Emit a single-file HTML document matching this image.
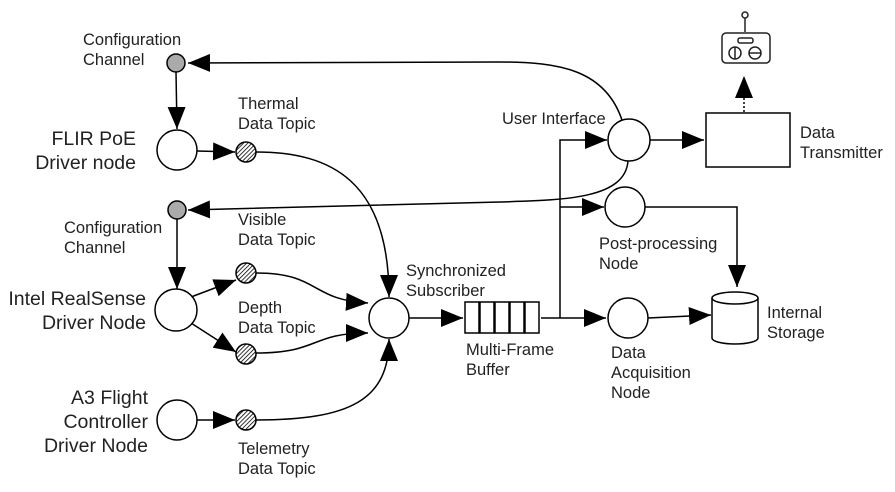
<!DOCTYPE html>
<html><head><style>body{margin:0;background:#fff}svg{display:block}text{font-family:"Liberation Sans",sans-serif;fill:#222}</style></head><body>
<svg width="895" height="492" viewBox="0 0 895 492" xmlns="http://www.w3.org/2000/svg">
<defs>
<marker id="b" markerWidth="22" markerHeight="18" refX="22" refY="9" orient="auto" markerUnits="userSpaceOnUse"><path d="M0,0L22,9L0,18z" fill="#000"/></marker>
<pattern id="h" width="3" height="3" patternUnits="userSpaceOnUse" patternTransform="rotate(45)"><rect width="3" height="3" fill="#fff"/><line x1="0" y1="0" x2="0" y2="3" stroke="#000" stroke-width="1.6"/></pattern>
</defs>
<g fill="none" stroke="#000" stroke-width="1.5">
<path d="M622,120 C605,70 560,62 500,62 L188,63" marker-end="url(#b)"/>
<path d="M628,161 C625,200 560,200 500,202 L188,210" marker-end="url(#b)"/>
<path d="M176,72 L177,129" marker-end="url(#b)"/>
<path d="M177,219 L177,289" marker-end="url(#b)"/>
<path d="M197,151 L235,152" marker-end="url(#b)"/>
<path d="M256,152 C330,152 389,180 389,297" marker-end="url(#b)"/>
<path d="M191,297 L236,280" marker-end="url(#b)"/>
<path d="M191,323 L236,352" marker-end="url(#b)"/>
<path d="M256,273 C320,273 310,300 368,303" marker-end="url(#b)"/>
<path d="M256,353 C320,353 310,333 368,333" marker-end="url(#b)"/>
<path d="M256,420 C350,420 389,400 389,339" marker-end="url(#b)"/>
<path d="M197,420 L235,420" marker-end="url(#b)"/>
<path d="M409,318 L463,318" marker-end="url(#b)"/>
<path d="M541,318 L606,318" marker-end="url(#b)"/>
<path d="M560,318 L560,140 L607,140" marker-end="url(#b)"/>
<path d="M560,207 L604,207" marker-end="url(#b)"/>
<path d="M650,140 L704,140" marker-end="url(#b)"/>
<path d="M645,207 L737,207 L737,287" marker-end="url(#b)"/>
<path d="M648,318 L711,315" marker-end="url(#b)"/>
<path d="M744,112 L744,76" stroke-dasharray="2,2" marker-end="url(#b)"/>
</g>
<g stroke="#000" stroke-width="1.5" fill="#fff">
<circle cx="177" cy="150" r="20"/><circle cx="176" cy="310" r="21"/><circle cx="177" cy="420" r="20"/>
<circle cx="389" cy="318" r="20"/><circle cx="629" cy="140" r="21"/><circle cx="625" cy="207" r="20"/><circle cx="628" cy="318" r="20"/>
<circle cx="176" cy="63" r="9" fill="#aaa"/><circle cx="177" cy="210" r="9" fill="#aaa"/>
<circle cx="246" cy="152" r="10" fill="url(#h)"/><circle cx="246" cy="273" r="10" fill="url(#h)"/><circle cx="246" cy="354" r="10" fill="url(#h)"/><circle cx="246" cy="420" r="10" fill="url(#h)"/>
<rect x="706" y="113" width="84" height="54"/>
<rect x="465" y="302" width="14" height="31"/><rect x="480" y="302" width="14" height="31"/><rect x="495" y="302" width="14" height="31"/><rect x="510" y="302" width="14" height="31"/><rect x="525" y="302" width="14" height="31"/>
<path d="M712,298 L712,338 A23,6 0 0 0 758,338 L758,298"/>
<ellipse cx="735" cy="298" rx="23" ry="6"/>
</g>
<g stroke="#222" stroke-width="1.5" fill="none">
<circle cx="745" cy="15" r="3"/><line x1="745" y1="18" x2="745" y2="32"/>
<rect x="722" y="33" width="48" height="30" rx="4"/>
<rect x="738" y="38" width="15" height="5" rx="2"/>
<circle cx="735" cy="53" r="6"/><circle cx="755" cy="53" r="6"/>
<line x1="735" y1="47" x2="735" y2="59"/><line x1="749" y1="53" x2="761" y2="53"/>
</g>
<g font-size="16.5">
<text x="83" y="45">Configuration</text><text x="83" y="65">Channel</text>
<text x="238" y="109">Thermal</text><text x="238" y="129">Data Topic</text>
<text x="64" y="233">Configuration</text><text x="64" y="253">Channel</text>
<text x="238" y="225">Visible</text><text x="238" y="245">Data Topic</text>
<text x="238" y="313">Depth</text><text x="238" y="333">Data Topic</text>
<text x="238" y="454">Telemetry</text><text x="238" y="474">Data Topic</text>
<text x="406" y="276">Synchronized</text><text x="406" y="296">Subscriber</text>
<text x="466" y="355">Multi-Frame</text><text x="466" y="375">Buffer</text>
<text x="502" y="124">User Interface</text>
<text x="800" y="138">Data</text><text x="800" y="158">Transmitter</text>
<text x="599" y="249">Post-processing</text><text x="599" y="269">Node</text>
<text x="611" y="358">Data</text><text x="611" y="378">Acquisition</text><text x="611" y="398">Node</text>
<text x="767" y="318">Internal</text><text x="767" y="338">Storage</text>
</g>
<g font-size="19.5" text-anchor="end">
<text x="136" y="145">FLIR PoE</text><text x="136" y="169">Driver node</text>
<text x="146" y="305">Intel RealSense</text><text x="146" y="329">Driver Node</text>
<text x="148" y="404">A3 Flight</text><text x="148" y="428">Controller</text><text x="148" y="452">Driver Node</text>
</g>
</svg>
</body></html>
